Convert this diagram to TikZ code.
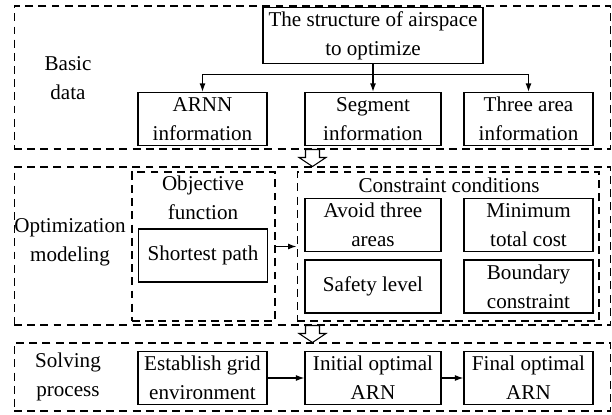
\documentclass[tikz,border=0pt]{standalone}
\usepackage{fontspec}
\setmainfont{Liberation Serif}
\usetikzlibrary{arrows.meta,positioning,calc}

\tikzset{
  infobox/.style={draw, line width=0.7pt, align=center, inner sep=2pt, minimum height=1.06cm},
  groupbox/.style={draw, dash pattern=on 4.5pt off 3pt, line width=0.6pt, inner sep=0pt},
  txt/.style={align=center, inner sep=1pt},
  hollow/.style={draw, fill=white, line width=0.6pt, line join=miter}
}
% hollow block arrow from the bottom of one stage to the top of the next
\newcommand{\stagearrow}[2]{%
  \draw[hollow] ($(#1.south)+(-7,0)$) -- ($(#1.south)+(7,0)$) -- ($(#1.south)+(7,8)$)
    -- ($(#1.south)+(13.5,8)$) -- (#2.north) -- ($(#1.south)+(-13.5,8)$)
    -- ($(#1.south)+(-7,8)$) -- cycle;}

\begin{document}
\begin{tikzpicture}[x=0.02cm, y=-0.02cm, font=\fontsize{12}{16.5}\selectfont,
    >={Latex[length=1.7mm,width=1.2mm]}, line width=0.7pt]
    \useasboundingbox (0,0) rectangle (612,415);

    % Basic data
    \node[groupbox, minimum width=11.94cm, minimum height=2.86cm] (basic) at (312.5,77.5) {};
    \node[txt] (basiclbl) at (68,78) {Basic\\data};
    \node[infobox, minimum width=4.4cm] (airspace) at (373,35.5) {The structure of airspace\\to optimize};
    \node[infobox, minimum width=2.58cm] (arnn) at (202.5,119) {ARNN\\information};
    \node[infobox, minimum width=2.72cm] (segment) at (373,119) {Segment\\information};
    \node[infobox, minimum width=2.58cm] (threearea) at (528.5,119) {Three area\\information};
    \draw[->] (airspace.south) -- (segment.north);
    \draw[->] (airspace.south) -- ++(0,11) -| (arnn.north);
    \draw[->] (airspace.south) -- ++(0,11) -| (threearea.north);

    % Optimization modeling
    \node[groupbox, minimum width=11.94cm, minimum height=3.16cm] (model) at (312.5,246) {};
    \node[txt] (modellbl) at (70,242) {Optimization\\modeling};
    \node[groupbox, minimum width=2.86cm, minimum height=2.98cm] (objective) at (203.5,246.5) {};
    \node[txt] (objlbl) at (203,197.5) {Objective\\function};
    \node[infobox, minimum width=2.58cm] (shortest) at (203,255.5) {Shortest path};
    \node[groupbox, minimum width=6.04cm, minimum height=2.98cm] (constraint) at (448,246.5) {};
    \node[txt] (conlbl) at (449,185) {Constraint conditions};
    \node[infobox, minimum width=2.72cm] (avoid) at (373,225) {Avoid three\\areas};
    \node[infobox, minimum width=2.58cm] (mincost) at (528.5,225) {Minimum\\total cost};
    \node[infobox, minimum width=2.72cm] (safety) at (373,286.5) {Safety level};
    \node[infobox, minimum width=2.58cm] (boundary) at (528.5,286.5) {Boundary\\constraint};
    \draw[->] (objective.east) -- (constraint.west);

    % Solving process
    \node[groupbox, minimum width=11.94cm, minimum height=1.36cm] (solve) at (312.5,377) {};
    \node[txt] (solvelbl) at (68,377) {Solving\\process};
    \node[infobox, minimum width=2.58cm] (grid) at (202.5,378) {Establish grid\\environment};
    \node[infobox, minimum width=2.72cm] (initial) at (373,378) {Initial optimal\\ARN};
    \node[infobox, minimum width=2.58cm] (final) at (528.5,378) {Final optimal\\ARN};
    \draw[->] (grid) -- (initial);
    \draw[->] (initial) -- (final);

    % Hollow arrows between the stages
    \stagearrow{basic}{model}
    \stagearrow{model}{solve}
\end{tikzpicture}
\end{document}
